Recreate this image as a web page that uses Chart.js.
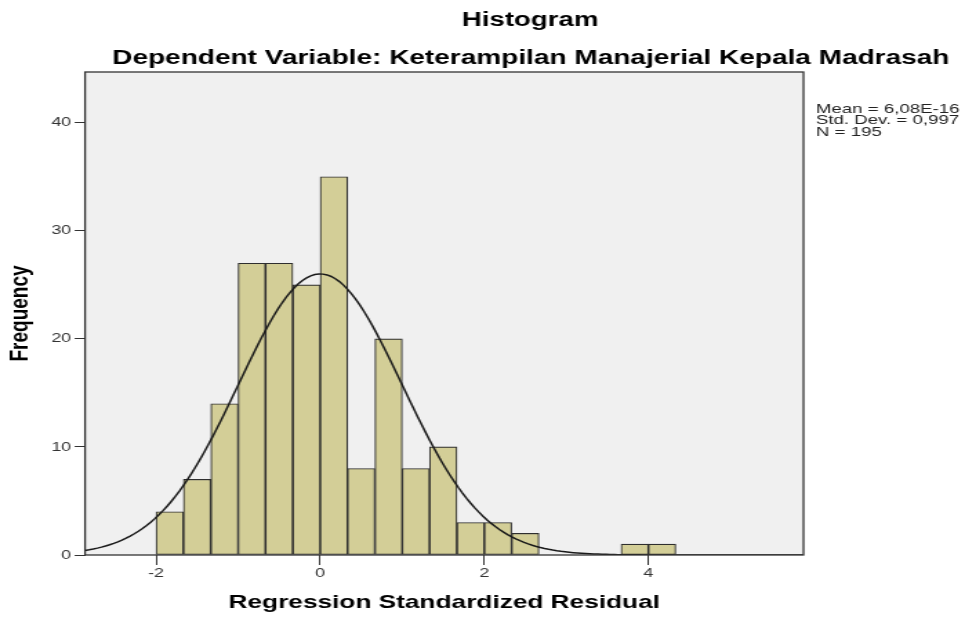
<!DOCTYPE html>
<html>
<head>
<meta charset="utf-8">
<script src="https://cdn.jsdelivr.net/npm/chart.js@4.4.1/dist/chart.umd.min.js"></script>
<style>
  html, body { margin: 0; padding: 0; background: #fff; }
</style>
</head>
<body>
<canvas id="hist" width="699" height="618" style="display:block;width:965px;height:618px"></canvas>
<script>
// histogram bins (lower edges), width 1/3
var binEdges = [-2.000, -1.667, -1.333, -1.000, -0.667, -0.333, 0.000, 0.333,
                0.667, 1.000, 1.333, 1.667, 2.000, 2.333, 3.667, 4.000];
var binWidth = 1 / 3;
var frequencies = [4, 7, 14, 27, 27, 25, 35, 8, 20, 8, 10, 3, 3, 2, 1, 1];

var xTicks = [-2, 0, 2, 4];
var yTicks = [0, 10, 20, 30, 40];

// stats shown in the legend box; the normal curve comes from these
var mean = 6.08e-16;
var stdDev = 0.997;
var n = 195;
var statLines = ['Mean = 6,08E-16', 'Std. Dev. = 0,997', 'N = 195'];

var xMin = -2.866, xMax = 5.89;
var yMax = 44.7;

var bars = binEdges.map(function (e, i) {
    return { x: e + binWidth / 2, y: frequencies[i] };
});

var curve = [];
for (var x = xMin; x <= xMax + 0.001; x += 0.05) {
    var z = (x - mean) / stdDev;
    curve.push({ x: x, y: n * binWidth * Math.exp(-0.5 * z * z) / (stdDev * Math.sqrt(2 * Math.PI)) });
}

var plotDecor = {
    id: 'plotDecor',
    beforeDraw: function (chart) {
        var a = chart.chartArea, ctx = chart.ctx;
        ctx.save();
        ctx.fillStyle = '#f0f0f0';
        ctx.fillRect(a.left, a.top, a.right - a.left, a.bottom - a.top);
        ctx.restore();
    },
    afterDraw: function (chart) {
        var a = chart.chartArea, ctx = chart.ctx;
        ctx.save();
        ctx.strokeStyle = '#333';
        ctx.lineWidth = 1.3;
        ctx.strokeRect(a.left, a.top, a.right - a.left, a.bottom - a.top);

        ctx.fillStyle = '#000';
        ctx.textAlign = 'center';
        ctx.textBaseline = 'alphabetic';
        ctx.font = 'bold 20px "Liberation Sans", Arial, sans-serif';
        ctx.fillText('Histogram', 384, 26);
        ctx.font = 'bold 20.3px "Liberation Sans", Arial, sans-serif';
        ctx.fillText('Dependent Variable: Keterampilan Manajerial Kepala Madrasah', 384.5, 64);

        ctx.textAlign = 'left';
        ctx.fillStyle = '#222';
        ctx.font = '13.5px "Liberation Sans", Arial, sans-serif';
        statLines.forEach(function (t, i) {
            ctx.fillText(t, a.right + 9, 112.5 + i * 11.7);
        });
        ctx.restore();
    }
};

var ctx = document.getElementById('hist').getContext('2d');
var chart = new Chart(ctx, {
    type: 'bar',
    data: {
        datasets: [{
            type: 'line',
            data: curve,
            borderColor: '#1a1a1a',
            borderWidth: 1.5,
            pointRadius: 0,
            tension: 0,
            fill: false,
            order: 0
        }, {
            type: 'bar',
            data: bars,
            backgroundColor: '#d3ce97',
            borderColor: '#2e2e2e',
            borderWidth: 1.1,
            borderSkipped: false,
            barPercentage: 1,
            categoryPercentage: 1,
            order: 1
        }]
    },
    options: {
        responsive: false,
        devicePixelRatio: 1,
        animation: false,
        layout: { padding: { top: 72, right: 117, bottom: 0, left: 0 } },
        plugins: {
            legend: { display: false },
            tooltip: { enabled: false }
        },
        scales: {
            x: {
                type: 'linear',
                min: xMin,
                max: xMax,
                offset: false,
                afterBuildTicks: function (s) {
                    s.ticks = xTicks.map(function (v) { return { value: v }; });
                },
                afterFit: function (s) { s.height = 63; },
                grid: { offset: false, drawOnChartArea: false, drawTicks: true, tickLength: 10, color: '#333' },
                border: { display: false },
                ticks: {
                    padding: 1,
                    color: '#333',
                    font: { family: '"Liberation Sans", Arial, sans-serif', size: 13 }
                },
                title: {
                    display: true,
                    text: 'Regression Standardized Residual',
                    color: '#000',
                    padding: { top: 0, bottom: 3.6 },
                    font: { family: '"Liberation Sans", Arial, sans-serif', size: 19, weight: 'bold' }
                }
            },
            y: {
                min: 0,
                max: yMax,
                afterBuildTicks: function (s) {
                    s.ticks = yTicks.map(function (v) { return { value: v }; });
                },
                afterFit: function (s) { s.width = 61.6; },
                grid: { drawOnChartArea: false, drawTicks: true, tickLength: 7.5, color: '#333' },
                border: { display: false },
                ticks: {
                    padding: 2.5,
                    color: '#333',
                    font: { family: '"Liberation Sans", Arial, sans-serif', size: 13 }
                },
                title: {
                    display: true,
                    text: 'Frequency',
                    color: '#000',
                    padding: { top: 3.5, bottom: 0 },
                    font: { family: '"Liberation Sans", Arial, sans-serif', size: 19, weight: 'bold' }
                }
            }
        }
    },
    plugins: [plotDecor]
});
</script>
</body>
</html>
